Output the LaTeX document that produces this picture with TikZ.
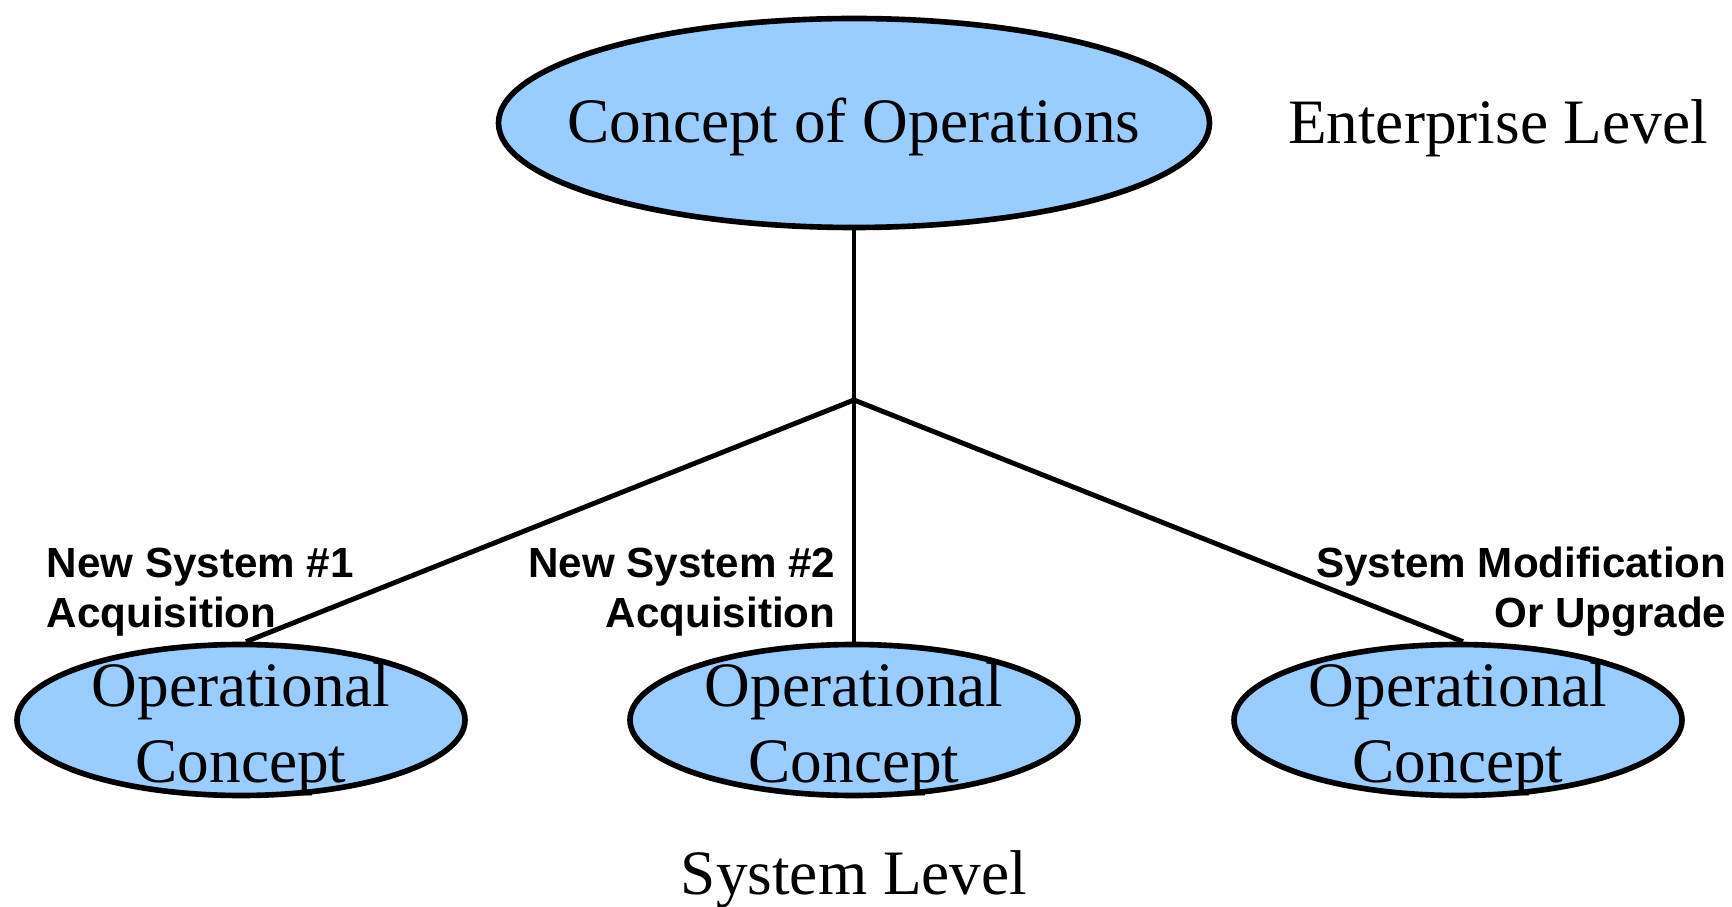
\documentclass[tikz,border=0pt]{standalone}
\usepackage{fontspec}
\setmainfont{Liberation Serif}
\setsansfont{Liberation Sans}
\usepackage{xcolor}
\definecolor{opblue}{RGB}{153,204,255}
\usetikzlibrary{positioning,shapes.geometric,calc}

\begin{document}
\begin{tikzpicture}[
    conbox/.style={draw, ellipse, line width=1.6pt, fill=opblue, inner sep=0pt},
    optext/.style={font=\fontsize{18}{21.6}\selectfont, align=center, inner sep=0pt},
    lvltext/.style={font=\fontsize{18}{21.6}\selectfont, inner sep=0pt},
    acqlbl/.style={font=\sffamily\bfseries\fontsize{12}{14.2}\selectfont, inner sep=0pt},
    link/.style={line width=1.4pt}
  ]
    \useasboundingbox (0,0) rectangle (17.32,-9.07);

    % Enterprise level
    \node[conbox, minimum width=7.11cm, minimum height=2.09cm] (conops) at (8.54,-1.23) {};
    \node[optext] (conopstxt) at ($(conops)+(0,-0.04)$) {Concept of Operations};
    \node[lvltext] (entlvl) at (14.98,-1.28) {Enterprise Level};

    % Branch point
    \coordinate (split) at (8.54,-4.00);

    % Operational concepts
    \node[conbox, minimum width=4.48cm, minimum height=1.51cm] (opcon1) at (2.41,-7.20) {};
    \node[conbox, minimum width=4.48cm, minimum height=1.51cm] (opcon2) at (8.54,-7.20) {};
    \node[conbox, minimum width=4.48cm, minimum height=1.51cm] (opcon3) at (14.58,-7.20) {};
    \node[optext] (optxt1) at ($(opcon1)+(0,-0.09)$) {Operational\\Concept};
    \node[optext] (optxt2) at ($(opcon2)+(0,-0.09)$) {Operational\\Concept};
    \node[optext] (optxt3) at ($(opcon3)+(0,-0.09)$) {Operational\\Concept};

    % Connectors
    \draw[link] (conops.south) -- (split);
    \draw[link] (split) -- ($(opcon1.north)+(0.05,0)$);
    \draw[link] (split) -- (opcon2.north);
    \draw[link] (split) -- ($(opcon3.north)+(0.05,0)$);

    % Labels
    \node[acqlbl, anchor=west, align=left]  (acq1) at (0.46,-5.92) {New System \#1\\Acquisition};
    \node[acqlbl, anchor=east, align=right] (acq2) at (8.36,-5.92) {New System \#2\\Acquisition};
    \node[acqlbl, anchor=east, align=right] (mod3) at (17.27,-5.92) {System Modification\\Or Upgrade};

    \node[lvltext] (syslvl) at (8.54,-8.79) {System Level};
  \end{tikzpicture}
\end{document}
